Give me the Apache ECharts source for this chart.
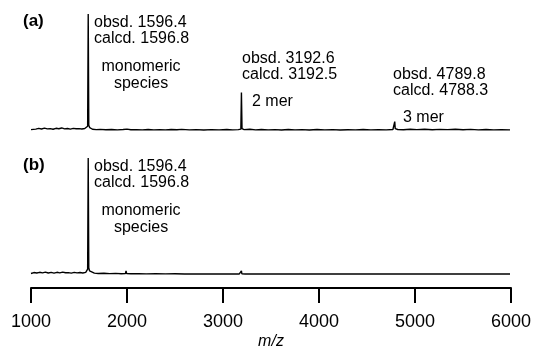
<!DOCTYPE html>
<html>
<head>
<meta charset="utf-8">
<script src="https://cdn.jsdelivr.net/npm/echarts@6/dist/echarts.min.js"></script>
<style>
  html, body { margin: 0; padding: 0; background: #fff; }
  #chart { width: 534px; height: 354px; }
</style>
</head>
<body>
<div id="chart"></div>
<script>
// spectrum (a): m/z and relative intensity (%)
var mzA = [1000, 1020, 1050, 1080, 1110, 1140, 1170, 1200, 1230, 1260, 1290, 1320, 1350, 1380, 1410, 1440, 1470, 1500, 1530, 1560, 1580, 1590, 1596, 1602, 1612,
    1640, 1680, 1720, 1780, 1840, 1900, 1960, 2000, 2040, 2100, 2160, 2220, 2280, 2340, 2400, 2460, 2520, 2570, 2580, 2590, 2650, 2720, 2800, 2880, 2960,
    3040, 3100, 3160, 3186, 3192, 3198, 3220, 3280, 3340, 3400, 3470, 3540, 3610, 3680, 3750, 3820, 3900, 3980, 4060, 4140, 4220, 4300, 4380, 4460, 4540,
    4620, 4700, 4770, 4784, 4789, 4794, 4820, 4880, 4950, 5020, 5100, 5180, 5260, 5340, 5420, 5500, 5580, 5660, 5740, 5820, 5900, 5990];
var intA = [1.2, 2.0, 1.6, 2.2, 1.7, 2.4, 1.8, 2.0, 1.5, 2.3, 1.9, 2.6, 1.8, 2.1, 1.6, 2.2, 1.9, 2.0, 1.7, 2.1, 2.6, 4.0, 100, 5.0, 2.8,
    1.5, 1.2, 1.4, 1.1, 1.3, 1.0, 1.3, 1.6, 1.1, 1.2, 1.0, 1.3, 1.0, 1.2, 1.0, 1.3, 1.1, 1.4, 2.6, 1.2, 1.0, 1.2, 0.9, 1.2, 1.0,
    1.3, 1.0, 1.2, 1.6, 33, 2.0, 1.2, 1.5, 1.0, 1.3, 1.0, 1.2, 0.9, 1.3, 1.0, 1.2, 0.9, 1.3, 1.0, 1.2, 0.9, 1.1, 1.0, 1.3, 1.0,
    1.2, 1.0, 1.3, 2.0, 8.0, 2.0, 1.3, 1.1, 1.5, 1.2, 1.5, 1.1, 1.4, 1.2, 1.5, 1.1, 1.4, 1.0, 1.3, 1.0, 1.2, 1.0];

// spectrum (b)
var mzB = [1000, 1030, 1060, 1090, 1120, 1150, 1180, 1210, 1240, 1270, 1300, 1330, 1360, 1390, 1420, 1450, 1480, 1510, 1540, 1570, 1584, 1590, 1596, 1602, 1610,
    1630, 1660, 1700, 1760, 1820, 1880, 1940, 1984, 1990, 1996, 2040, 2120, 2200, 2300, 2400, 2500, 2600, 2700, 2800, 2900, 3000, 3100, 3170, 3188, 3192, 3196,
    3230, 3320, 3420, 3520, 3620, 3720, 3820, 3920, 4020, 4120, 4220, 4320, 4420, 4520, 4620, 4720, 4820, 4920, 5020, 5120, 5220, 5320, 5420, 5520, 5620,
    5720, 5820, 5920, 5990];
var intB = [1.3, 2.1, 1.7, 2.3, 1.8, 2.4, 1.7, 2.2, 1.6, 2.3, 1.8, 2.5, 1.9, 2.0, 1.6, 2.2, 1.8, 2.1, 1.7, 2.3, 3.0, 5.0, 100, 6.0, 3.5,
    2.2, 1.6, 1.3, 1.5, 1.2, 1.4, 1.1, 1.3, 3.5, 1.3, 1.1, 1.2, 1.0, 1.1, 1.0, 1.1, 0.9, 1.0, 0.9, 1.0, 0.9, 1.0, 0.9, 1.1, 3.5, 1.1,
    0.9, 1.0, 0.8, 0.9, 0.8, 0.9, 0.8, 0.9, 0.8, 0.9, 0.8, 0.9, 0.8, 0.9, 0.8, 0.9, 0.8, 0.9, 0.8, 0.9, 0.8, 0.9, 0.8, 0.9, 0.8,
    0.9, 0.8, 0.9, 0.8];

var xMin = 1000, xMax = 6000, xStep = 1000;
var tickLabels = ['1000', '2000', '3000', '4000', '5000', '6000'];

var FONT = '"Liberation Sans", Arial, sans-serif';

function pairs(xs, ys) {
    var out = [];
    for (var i = 0; i < xs.length; i++) out.push([xs[i], ys[i]]);
    return out;
}

// text annotation, x/y = anchor in px, vertically centred
function note(text, x, y, opts) {
    opts = opts || {};
    return {
        type: 'text',
        x: x, y: y,
        style: {
            text: text,
            fontSize: opts.size || 16,
            fontFamily: FONT,
            fontWeight: opts.bold ? 'bold' : 'normal',
            fill: '#000',
            align: opts.align || 'left',
            verticalAlign: 'middle'
        }
    };
}

var chart = echarts.init(document.getElementById('chart'), null, { renderer: 'canvas' });

var hiddenX = { type: 'value', min: xMin, max: xMax, show: false };
var hiddenY = { type: 'value', min: 0, max: 100, show: false };

var option = {
    animation: false,
    backgroundColor: '#fff',
    grid: [
        { left: 31, right: 23, top: 14, height: 117 },
        { left: 31, right: 23, top: 158, height: 117 },
        { left: 31, right: 23, top: 250, bottom: 66 }
    ],
    xAxis: [
        Object.assign({ gridIndex: 0 }, hiddenX),
        Object.assign({ gridIndex: 1 }, hiddenX),
        {
            gridIndex: 2, type: 'value', min: xMin, max: xMax, interval: xStep,
            splitLine: { show: false },
            axisLine: { lineStyle: { color: '#000', width: 2 } },
            axisTick: { inside: false, length: 15, lineStyle: { color: '#000', width: 2 } },
            axisLabel: {
                color: '#000', fontSize: 18, fontFamily: FONT, margin: 25,
                formatter: function(v) { return tickLabels[Math.round((v - xMin) / xStep)]; }
            },
            name: 'm/z', nameLocation: 'middle', nameGap: 46,
            nameTextStyle: { color: '#000', fontSize: 16, fontStyle: 'italic', fontFamily: FONT }
        }
    ],
    yAxis: [
        Object.assign({ gridIndex: 0 }, hiddenY),
        Object.assign({ gridIndex: 1 }, hiddenY),
        { gridIndex: 2, type: 'value', show: false }
    ],
    series: [
        {
            type: 'line', xAxisIndex: 0, yAxisIndex: 0, data: pairs(mzA, intA),
            symbol: 'none', lineStyle: { color: '#000', width: 1.4 }
        },
        {
            type: 'line', xAxisIndex: 1, yAxisIndex: 1, data: pairs(mzB, intB),
            symbol: 'none', lineStyle: { color: '#000', width: 1.4 }
        }
    ],
    graphic: [
        note('(a)', 23, 21, { bold: true, size: 17 }),
        note('obsd. 1596.4', 94, 23),
        note('calcd. 1596.8', 94, 39),
        note('monomeric', 141, 67, { align: 'center' }),
        note('species', 141, 84, { align: 'center' }),
        note('obsd. 3192.6', 242, 59),
        note('calcd. 3192.5', 242, 75),
        note('2 mer', 252, 102),
        note('obsd. 4789.8', 393, 75),
        note('calcd. 4788.3', 393, 91),
        note('3 mer', 403, 118),
        note('(b)', 23, 165, { bold: true, size: 17 }),
        note('obsd. 1596.4', 94, 167),
        note('calcd. 1596.8', 94, 183),
        note('monomeric', 141, 211, { align: 'center' }),
        note('species', 141, 228, { align: 'center' })
    ]
};

chart.setOption(option);
</script>
</body>
</html>
